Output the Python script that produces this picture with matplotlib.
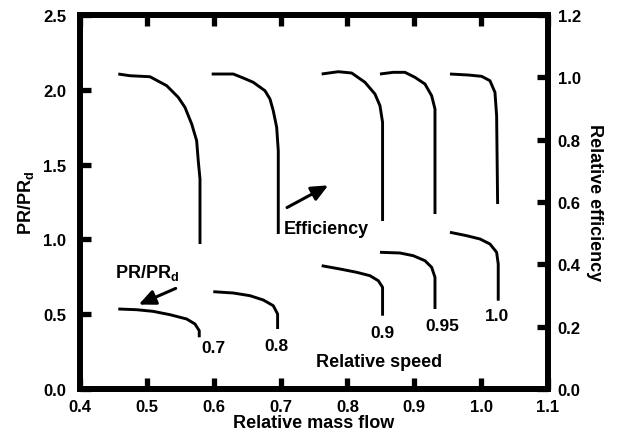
import numpy as np
import matplotlib.pyplot as plt

plt.rcParams['font.family'] = ['Liberation Sans', 'DejaVu Sans']
plt.rcParams['font.weight'] = 'bold'
plt.rcParams['mathtext.fontset'] = 'custom'
plt.rcParams['mathtext.bf'] = 'Liberation Sans:bold'
plt.rcParams['mathtext.rm'] = 'Liberation Sans:bold'
plt.rcParams['mathtext.default'] = 'bf'

speeds = ['0.7', '0.8', '0.9', '0.95', '1.0']

# efficiency curves (right axis)
eff_m = [
    [0.4573, 0.4748, 0.5047, 0.5297, 0.5470, 0.5570, 0.5671, 0.5745, 0.5769, 0.5795, 0.5795],
    [0.597, 0.6293, 0.6442, 0.6592, 0.6767, 0.6842, 0.6891, 0.6942, 0.6966, 0.6966],
    [0.7615, 0.7863, 0.8064, 0.8263, 0.8412, 0.8487, 0.8526, 0.8526],
    [0.8487, 0.8686, 0.8861, 0.9010, 0.9160, 0.9260, 0.9310, 0.9310],
    [0.9534, 0.9808, 1.0008, 1.0132, 1.0207, 1.0232, 1.0247],
]
eff_v = [
    [1.0106, 1.0051, 1.0019, 0.9731, 0.9358, 0.9038, 0.8502, 0.7966, 0.7324, 0.6737, 0.4652],
    [1.0106, 1.0106, 0.9978, 0.9840, 0.9570, 0.9304, 0.8928, 0.8396, 0.7645, 0.4973],
    [1.0106, 1.018, 1.0138, 0.984, 0.9464, 0.9089, 0.8556, 0.539],
    [1.0106, 1.016, 1.016, 1.000, 0.9785, 0.941, 0.8983, 0.5614],
    [1.0106, 1.0074, 1.0032, 0.9891, 0.9519, 0.8768, 0.5935],
]

# pressure ratio curves (left axis)
pr_m = [
    [0.4573, 0.4848, 0.5096, 0.5346, 0.5596, 0.5720, 0.5784, 0.5784],
    [0.5994, 0.6293, 0.6543, 0.6742, 0.6891, 0.6956, 0.6956],
    [0.7615, 0.7889, 0.8139, 0.8337, 0.8462, 0.8526, 0.8526],
    [0.8487, 0.8786, 0.8985, 0.916, 0.926, 0.931, 0.931],
    [0.9534, 0.9784, 0.9983, 1.0132, 1.0232, 1.0256, 1.0256],
]
pr_v = [
    [0.5348, 0.530, 0.519, 0.4967, 0.4679, 0.4345, 0.3897, 0.3456],
    [0.6504, 0.6417, 0.6237, 0.5949, 0.5568, 0.5013, 0.4011],
    [0.8242, 0.8021, 0.780, 0.7574, 0.7239, 0.6798, 0.490],
    [0.9138, 0.9091, 0.891, 0.8576, 0.8135, 0.7467, 0.5348],
    [1.0475, 1.0247, 1.0027, 0.9693, 0.9138, 0.8356, 0.5902],
]

# speed label positions (mass flow, PR)
lab_m = [0.5995, 0.6945, 0.8525, 0.9425, 1.0245]
lab_p = [0.279, 0.294, 0.379, 0.424, 0.491]

fig = plt.figure(figsize=(6.21, 4.39), dpi=100)
ax = fig.add_axes([0.1288, 0.1116, 0.7536, 0.852])
ax2 = ax.twinx()

for m, p in zip(pr_m, pr_v):
    ax.plot(m, p, color='black', lw=2.1, solid_capstyle='butt',
            solid_joinstyle='round')
for m, e in zip(eff_m, eff_v):
    ax2.plot(m, e, color='black', lw=2.1, solid_capstyle='butt',
             solid_joinstyle='round')

for s, x, y in zip(speeds, lab_m, lab_p):
    ax.text(x, y, s, ha='center', va='center', fontsize=12.5, fontweight='bold')

ax.text(0.847, 0.185, 'Relative speed', ha='center', va='center',
        fontsize=13, fontweight='bold')
ax.text(0.7045, 1.075, 'Efficiency', ha='left', va='center',
        fontsize=13, fontweight='bold')
ax.annotate('', xy=(0.775, 1.37), xytext=(0.706, 1.204),
            arrowprops=dict(arrowstyle='-|>,head_length=1.0,head_width=0.45',
                            color='black', lw=2.2))
ax.text(0.5, 0.78, r'PR/PR$_d$', ha='center', va='center',
        fontsize=13, fontweight='bold')
ax.annotate('', xy=(0.484, 0.557), xytext=(0.547, 0.68),
            arrowprops=dict(arrowstyle='-|>,head_length=1.0,head_width=0.45',
                            color='black', lw=2.2))

ax.set_xlim(0.4, 1.1)
ax.set_ylim(0, 2.5)
ax2.set_ylim(0, 1.2)
ax.set_xticks(np.arange(0.4, 1.11, 0.1))
ax.set_yticks(np.arange(0, 2.51, 0.5))
ax2.set_yticks(np.arange(0, 1.21, 0.2))
ax.xaxis.set_major_formatter(plt.FormatStrFormatter('%.1f'))
ax.yaxis.set_major_formatter(plt.FormatStrFormatter('%.1f'))
ax2.yaxis.set_major_formatter(plt.FormatStrFormatter('%.1f'))

ax.tick_params(axis='x', direction='in', top=True, length=8, width=3.8,
               labelsize=12, pad=7)
ax.tick_params(axis='y', direction='in', length=8, width=3.8, labelsize=12, pad=10)
ax2.tick_params(axis='y', direction='in', length=8, width=3.8, labelsize=12, pad=7)

for a in (ax, ax2):
    for sp in a.spines.values():
        sp.set_linewidth(4.2)

ax.set_xlabel('Relative mass flow', fontsize=13, fontweight='bold', labelpad=0)
ax.set_ylabel(r'PR/PR$_d$', fontsize=13, fontweight='bold', labelpad=5)
ax2.set_ylabel('Relative efficiency', fontsize=13, fontweight='bold',
               rotation=-90, labelpad=16)

fig.savefig('out.png', dpi=100)
